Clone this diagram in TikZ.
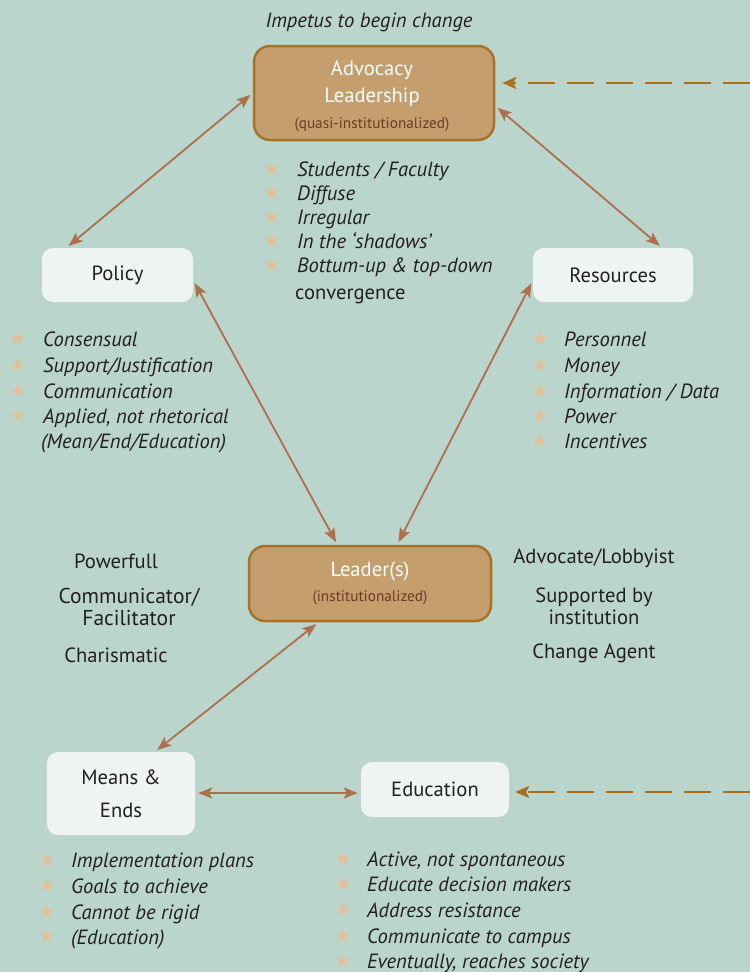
\documentclass[tikz,border=0pt]{standalone}
\usepackage{fontspec}
\setmainfont{PT Sans}
\newfontfamily\symfont{DejaVu Sans}
\usetikzlibrary{arrows.meta,calc}
\definecolor{bg}{HTML}{BAD5CC}
\definecolor{boxfill}{HTML}{C59E6E}
\definecolor{boxborder}{HTML}{A8722B}
\definecolor{lightfill}{HTML}{EEF4F3}
\definecolor{arrowc}{HTML}{AF6F4D}
\definecolor{dashc}{HTML}{A9701F}
\definecolor{starc}{HTML}{E3C09A}
\definecolor{txt}{HTML}{231F20}
\definecolor{subtxt}{HTML}{6E3B24}
\newcommand{\mainsize}{\fontsize{20.6bp}{24bp}\selectfont}
\tikzset{
  bigbox/.style={rounded corners=16bp, fill=boxfill, draw=boxborder, line width=2.5bp,
     minimum width=240bp, align=center},
  lightbox/.style={rounded corners=11bp, fill=lightfill, align=center, text=txt,
     font=\fontsize{20.6bp}{33bp}\selectfont},
  link/.style={{Stealth[length=14bp,width=11bp,inset=3bp]}-{Stealth[length=14bp,width=11bp,inset=3bp]},
     draw=arrowc, line width=1.8bp, shorten <=3bp, shorten >=3bp},
  dashlink/.style={-{Stealth[length=14bp,width=12bp,inset=3bp]}, draw=dashc, line width=2.5bp,
     dash pattern=on 27bp off 12bp},
  item/.style={anchor=base west, inner sep=0pt, text=txt, font=\mainsize\itshape},
  plain/.style={inner sep=0pt, text=txt, font=\mainsize},
  whitetxt/.style={inner sep=0pt, text=white, font=\mainsize},
  starmark/.style={inner sep=0pt, text=starc, font=\symfont\fontsize{19bp}{19bp}\selectfont},
  sub/.style={inner sep=0pt, text=subtxt, font=\fontsize{15.3bp}{18bp}\selectfont}
}
\begin{document}
\begin{tikzpicture}[x=1bp, y=-1bp]
\fill[bg] (0,0) rectangle (750,972);
\useasboundingbox (0,0) rectangle (750,972);

% title
\node[plain, font=\mainsize\itshape] (imp) at (369,22) {Impetus to begin change};

% main boxes
\node[bigbox, minimum height=94bp] (adv) at (374,93) {};
\node[whitetxt] (advt1) at (372,70) {Advocacy};
\node[whitetxt] (advt2) at (372,97) {Leadership};
\node[sub] (advt3) at (372,125) {(quasi-institutionalized)};

\node[bigbox, minimum width=242bp, minimum height=75bp] (lead) at (370,583.5) {};
\node[whitetxt] (leadt1) at (370,571) {Leader(s)};
\node[sub] (leadt2) at (370,598) {(institutionalized)};

\node[lightbox, minimum width=151bp, minimum height=54bp] (pol) at (117.5,275) {Policy};
\node[lightbox, minimum width=160bp, minimum height=54bp] (res) at (613,275) {Resources};
\node[lightbox, minimum width=148bp, minimum height=83bp] (means) at (121,793.5) {Means \&\\Ends};
\node[lightbox, minimum width=148bp, minimum height=55bp] (edu) at (435,789.5) {Education};

% connectors
\draw[link] (adv.west) -- (pol.152);
\draw[link] (adv.-6) -- (res.29);
\draw[link] (pol.-4) -- (lead.130);
\draw[link] (res.184) -- (lead.55);
\draw[link] (lead.-143) -- (means.51);
\coordinate (me) at (means.east |- 0,793);
\draw[link] (me) -- (me -| edu.west);

\coordinate (d1) at (750,83);
\draw[dashlink, shorten >=7bp] (d1) -- (d1 -| adv.east);
\coordinate (d2) at (750,792);
\draw[dashlink, shorten >=6bp] (d2) -- (d2 -| edu.east);

% centre list
\foreach \t [count=\i] in {{Students / Faculty}, Diffuse, Irregular, {In the `shadows'}, {Bottum-up \& top-down}}{
  \node[starmark] (cs\i) at (272,{145+24*\i}) {★};
  \node[item] (ct\i) at (297,{152+24*\i}) {\t};
}
\node[plain, anchor=base west] (ct6) at (295,299) {convergence};

% policy list
\foreach \yy/\t [count=\i] in {339/{Consensual}, 365/{Support/Justification}, 391/{Communication}, 416/{Applied, not rhetorical}}{
  \node[starmark] (ps\i) at (18,\yy) {★};
  \node[item] (pt\i) at (43,\yy+7) {\t};
}
\node[item] (pt5) at (41,448) {(Mean/End/Education)};

% resources list
\foreach \yy/\t [count=\i] in {339/{Personnel}, 365/{Money}, 391/{Information / Data}, 416/{Power}, 441/{Incentives}}{
  \node[starmark] (rs\i) at (540,\yy) {★};
  \node[item] (rt\i) at (564,\yy+7) {\t};
}

% leader side texts
\node[plain] (l1) at (116,561) {Powerfull};
\node[plain, align=center, font=\fontsize{21.5bp}{22bp}\selectfont] (l2) at (129,607) {Communicator/\\Facilitator};
\node[plain] (l3) at (116,655) {Charismatic};
\node[plain] (r1) at (594,558) {Advocate/Lobbyist};
\node[plain, align=center, font=\fontsize{20.6bp}{22bp}\selectfont] (r2) at (594,606) {Supported by\\institution};
\node[plain] (r3) at (594,653) {Change Agent};

% means list
\foreach \yy/\t [count=\i] in {860/{Implementation plans}, 886/{Goals to achieve}, 912/{Cannot be rigid}, 937/{(Education)}}{
  \node[starmark] (ms\i) at (47,\yy) {★};
  \node[item] (mt\i) at (71,\yy+7) {\t};
}

% education list
\foreach \yy/\t [count=\i] in {859/{Active, not spontaneous}, 884/{Educate decision makers}, 910/{Address resistance}, 936/{Communicate to campus}, 961/{Eventually, reaches society}}{
  \node[starmark] (es\i) at (343,\yy) {★};
  \node[item] (et\i) at (367,\yy+7) {\t};
}
\end{tikzpicture}
\end{document}
